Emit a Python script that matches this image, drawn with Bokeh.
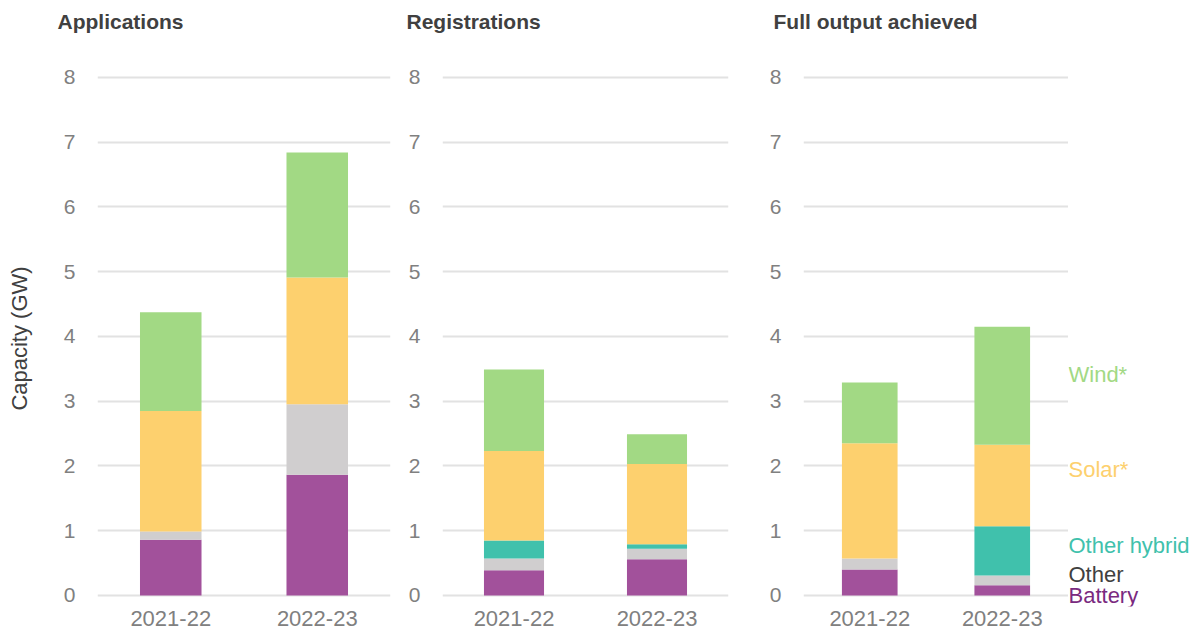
from bokeh.plotting import figure
from bokeh.layouts import row
from bokeh.models import ColumnDataSource, Range1d, Title
from bokeh.core.properties import value
from bokeh.embed import file_html
from bokeh.resources import INLINE

years = ["2021-22", "2022-23"]
series = ["Battery", "Other", "Other hybrid", "Solar*", "Wind*"]
keys = ["battery", "other", "hybrid", "solar", "wind"]
colors = ["#a2519b", "#d0cecf", "#40c1ac", "#fdd06e", "#a2d984"]
label_colors = ["#7a2a80", "#404040", "#40c1ac", "#fdd06e", "#a2d984"]
label_y = [0.0, 0.32, 0.77, 1.95, 3.42]

panels = ["Applications", "Registrations", "Full output achieved"]
battery = [[0.86, 1.865], [0.39, 0.56], [0.40, 0.16]]
other = [[0.13, 1.09], [0.18, 0.16], [0.17, 0.15]]
hybrid = [[0.00, 0.00], [0.28, 0.07], [0.00, 0.76]]
solar = [[1.86, 1.955], [1.38, 1.24], [1.78, 1.26]]
wind = [[1.525, 1.93], [1.26, 0.46], [0.94, 1.82]]

FONT = "Liberation Sans"
TICK_COLOR = "#808080"
Y0, Y1 = -0.17, 8.108
H = 632
TOP, BOTTOM = 70, 26

widths = [400, 355, 313]
borders_left = [97, 42, 48]
borders_right = [10, 27, 0]
title_offsets = [-40, -36, -30]

figs = []
for i, name in enumerate(panels):
    src = ColumnDataSource(dict(year=years, battery=battery[i], other=other[i],
                                hybrid=hybrid[i], solar=solar[i], wind=wind[i]))
    p = figure(x_range=years, y_range=Range1d(Y0, Y1), width=widths[i], height=H,
               output_backend="svg", toolbar_location=None, title=None,
               min_border_left=borders_left[i], min_border_right=borders_right[i],
               min_border_top=TOP, min_border_bottom=BOTTOM)
    p.vbar_stack(keys, x="year", width=0.42, color=colors, line_color=None, source=src)
    p.outline_line_color = None
    # spacer between the plot area and the panel title
    p.add_layout(Title(text=" ", text_font_size="12px", standoff=22), "above")
    p.add_layout(Title(text=name, text_font=FONT, text_font_size="21px",
                       text_font_style="bold", text_color="#404040",
                       offset=title_offsets[i], standoff=0), "above")
    p.xgrid.grid_line_color = None
    p.ygrid.grid_line_color = "#e2e2e2"
    p.ygrid.grid_line_width = 2
    p.yaxis.ticker = [0, 1, 2, 3, 4, 5, 6, 7, 8]
    for ax in (p.xaxis, p.yaxis):
        ax.axis_line_color = None
        ax.major_tick_line_color = None
        ax.minor_tick_line_color = None
        ax.major_tick_out = 0
        ax.major_tick_in = 0
        ax.minor_tick_out = 0
        ax.major_label_text_font = FONT
        ax.major_label_text_color = TICK_COLOR
    p.yaxis.major_label_text_font_size = "21px"
    p.xaxis.major_label_text_font_size = "22px"
    p.yaxis.major_label_standoff = 22
    p.xaxis.major_label_standoff = 4
    if i == 0:
        p.yaxis.axis_label = "Capacity (GW)"
        p.yaxis.axis_label_text_font = FONT
        p.yaxis.axis_label_text_font_size = "22px"
        p.yaxis.axis_label_text_font_style = "normal"
        p.yaxis.axis_label_text_color = "#404040"
        p.yaxis.axis_label_standoff = 29
    figs.append(p)

# series labels, drawn in a narrow figure that uses the same value scale
lsrc = ColumnDataSource(dict(x=[0] * len(series), y=label_y, text=series, color=label_colors))
leg = figure(x_range=Range1d(0, 1), y_range=Range1d(Y0, Y1),
             width=122, height=H, output_backend="svg", toolbar_location=None,
             x_axis_location=None, y_axis_location=None,
             min_border_left=0, min_border_right=0,
             min_border_top=TOP, min_border_bottom=BOTTOM)
leg.outline_line_color = None
leg.grid.grid_line_color = None
leg.text(x="x", y="y", text="text", text_color="color", source=lsrc,
         text_font=value(FONT), text_font_size="22px", text_baseline="middle",
         text_align="left")
figs.append(leg)

layout = row(*figs, spacing=0)
open("out.html", "w").write(file_html(layout, INLINE))
